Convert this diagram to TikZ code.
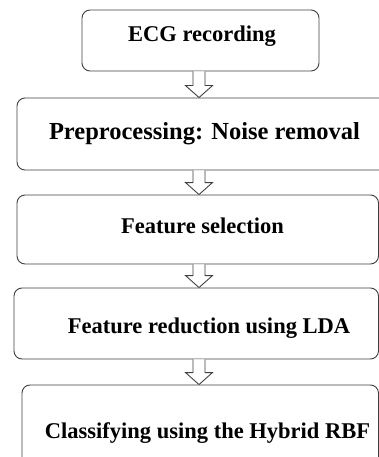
\documentclass[tikz,border=0pt]{standalone}
\usepackage{fontspec}
\setmainfont{Liberation Serif}
\usetikzlibrary{calc}
\tikzset{
  box/.style={draw=black!75, line width=0.9pt, rounded corners=8pt, inner sep=0pt, fill=white},
  txt/.style={font=\bfseries\fontsize{22.5}{27}\selectfont, inner sep=0pt, anchor=base},
  flow/.style={draw=black!75, line width=0.9pt, fill=white, line join=miter}
}
\newcommand{\flowarrow}[2]{%
  \path[flow] let \p1=(#1.south -| ax), \p2=(#2.north -| ax) in
    (\x1-6,\y1) -- (\x1-6,\y2+12) -- (\x1-13.5,\y2+12) -- (\x1,\y2) --
    (\x1+13.5,\y2+12) -- (\x1+6,\y2+12) -- (\x1+6,\y1);}
\begin{document}
\begin{tikzpicture}[x=1pt,y=1pt]
\useasboundingbox (0,0) rectangle (379,-457);
\coordinate (ax) at (199,0);
\node[box, minimum width=237, minimum height=61] (b1) at (200.5,-40.5) {};
\node[box, minimum width=371, minimum height=72] (b2) at (202.5,-134) {};
\node[box, minimum width=361.5, minimum height=69] (b3) at (197.75,-229.5) {};
\node[box, minimum width=364.5, minimum height=71] (b4) at (196.25,-323.5) {};
\node[box, minimum width=356.5, minimum height=80] (b5) at (200.25,-425) {};
\node[txt] (t1) at (202,-42) {ECG recording};
\node[txt, font=\bfseries\fontsize{24.5}{29}\selectfont] (t2) at (204.5,-140) {Preprocessing: Noise removal};
\node[txt] (t3) at (202.5,-233) {Feature selection};
\node[txt] (t4) at (209,-333) {Feature reduction using LDA};
\node[txt] (t5) at (207.5,-438) {Classifying using the Hybrid RBF};
\flowarrow{b1}{b2}
\flowarrow{b2}{b3}
\flowarrow{b3}{b4}
\flowarrow{b4}{b5}
\end{tikzpicture}
\end{document}
